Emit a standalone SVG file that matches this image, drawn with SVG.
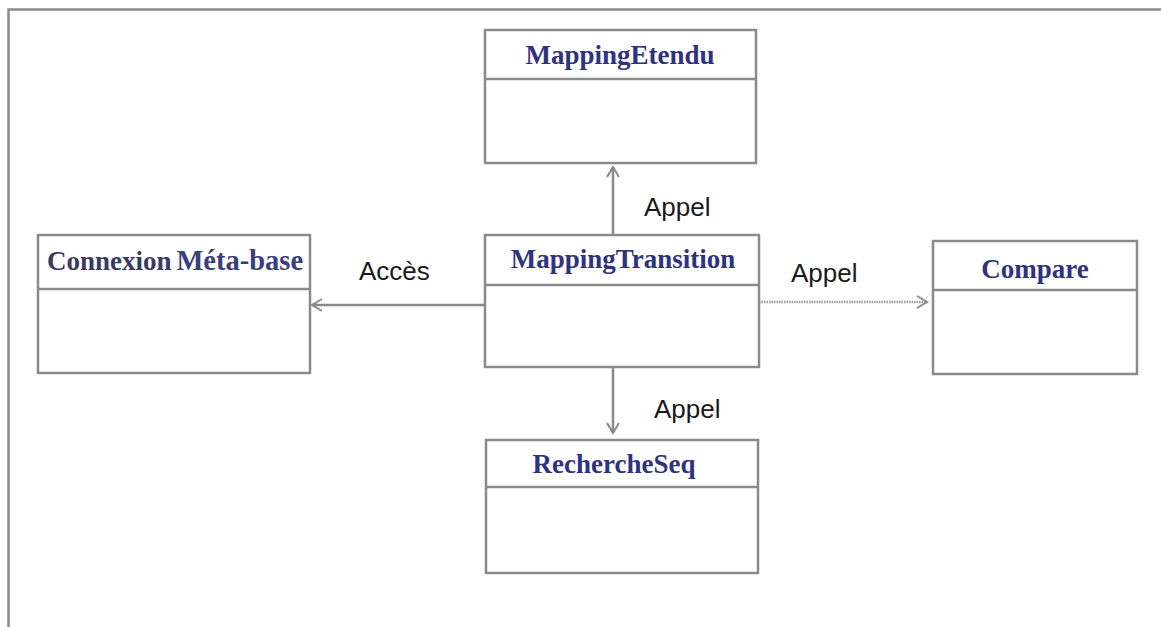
<svg xmlns="http://www.w3.org/2000/svg" width="1161" height="627" viewBox="0 0 1161 627">
  <defs>
    <marker id="open" markerWidth="14" markerHeight="14" refX="11" refY="7" orient="auto" markerUnits="userSpaceOnUse">
      <path d="M1,1 L11,7 L1,13" fill="none" stroke="#8a8a8a" stroke-width="2"/>
    </marker>
    <style>
      .box { fill: #ffffff; stroke: #8a8a8a; stroke-width: 2.5; }
      .sep { stroke: #8a8a8a; stroke-width: 2.5; }
      .title { font-family: "Liberation Serif", "Times New Roman", serif; font-weight: bold; font-size: 27px; fill: #2f3280; text-anchor: middle; }
      .lbl { font-family: "Liberation Sans", Arial, sans-serif; font-size: 26px; fill: #1a1a1a; }
      .edge { stroke: #8a8a8a; stroke-width: 2.5; fill: none; marker-end: url(#open); }
      .dotted { stroke: #9a9a9a; stroke-width: 2.5; stroke-dasharray: 1.5 1; fill: none; marker-end: url(#open); }
    </style>
  </defs>

  <rect width="1161" height="627" fill="#ffffff"/>
  <!-- outer frame -->
  <path d="M8.5,640 V9.5 H1170" fill="none" stroke="#8a8a8a" stroke-width="2.5"/>

  <g id="connectors">
    <line class="edge" x1="613" y1="235" x2="613" y2="167"/>
    <line class="edge" x1="485" y1="305" x2="312" y2="305"/>
    <line class="dotted" x1="759" y1="302" x2="927" y2="302"/>
    <line class="edge" x1="613" y1="367" x2="613" y2="433"/>
    <text class="lbl" x="644" y="216">Appel</text>
    <text class="lbl" x="359" y="280">Accès</text>
    <text class="lbl" x="791" y="282">Appel</text>
    <text class="lbl" x="654" y="418">Appel</text>
  </g>

  <g id="MappingEtendu">
    <rect class="box" x="485" y="30" width="271" height="133"/>
    <line class="sep" x1="485" y1="79" x2="756" y2="79"/>
    <text class="title" x="620" y="64">MappingEtendu</text>
  </g>

  <g id="ConnexionMetaBase">
    <rect class="box" x="38" y="235" width="272" height="138"/>
    <line class="sep" x1="38" y1="289" x2="310" y2="289"/>
    <text class="title" x="175" y="270"><tspan fill="#3a3a60">Connexion</tspan><tspan dx="5" font-size="28.5" fill="#3a3e7a">Méta-base</tspan></text>
  </g>

  <g id="MappingTransition">
    <rect class="box" x="485" y="235" width="274" height="132"/>
    <line class="sep" x1="485" y1="285" x2="759" y2="285"/>
    <text class="title" x="623" y="268">MappingTransition</text>
  </g>

  <g id="Compare">
    <rect class="box" x="933" y="241" width="204" height="133"/>
    <line class="sep" x1="933" y1="290" x2="1137" y2="290"/>
    <text class="title" x="1035" y="278">Compare</text>
  </g>

  <g id="RechercheSeq">
    <rect class="box" x="486" y="440" width="272" height="133"/>
    <line class="sep" x1="486" y1="487" x2="758" y2="487"/>
    <text class="title" x="614" y="473">RechercheSeq</text>
  </g>
</svg>
